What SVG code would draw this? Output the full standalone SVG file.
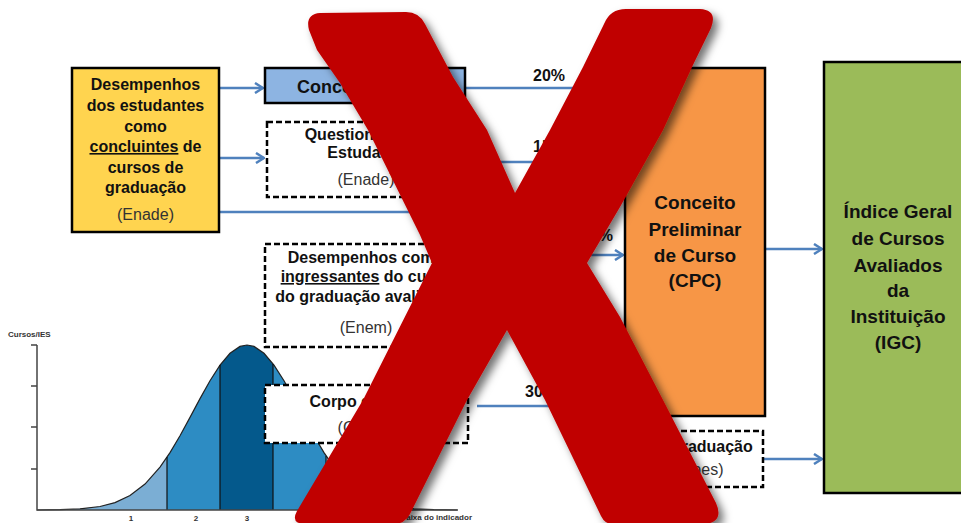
<svg xmlns="http://www.w3.org/2000/svg" width="961" height="523" viewBox="0 0 961 523">
<defs>
<style>
.t{font-family:"Liberation Sans",Arial,sans-serif;font-weight:bold;font-size:16px;fill:#111;text-anchor:middle}
.n{font-weight:normal;fill:#333}
.big{font-size:19px}
.box{stroke:#000;stroke-width:2.5}
.dash{fill:#fff;stroke:#000;stroke-width:2.5;stroke-dasharray:6 3}
.con{stroke:#4F81BD;stroke-width:2.5;fill:none}
.ax{stroke:#444;stroke-width:1.5;fill:none}
.ch{font-family:"Liberation Sans",Arial,sans-serif;font-weight:bold;font-size:8px;fill:#333}
</style>
<marker id="ah" viewBox="0 0 10 12" refX="9" refY="6" markerWidth="10" markerHeight="12" markerUnits="userSpaceOnUse" orient="auto">
<path d="M1,1 L9,6 L1,11" fill="none" stroke="#4F81BD" stroke-width="2.5" stroke-linejoin="miter"/>
</marker>
<clipPath id="bell">
<path d="M37,510 L60,509.7 L80,508.8 L100,506.5 L115,502.6 L130,495.6 L145,484.1 L160,467.1 L170,452.6 L180,435.8 L190,417.4 L200,398.6 L210,380.7 L220,365.1 L230,353.3 L240,346.4 L247,345 L254,346.4 L264,353.3 L274,365.1 L284,380.7 L294,398.6 L304,417.4 L314,435.8 L324,452.6 L334,467.1 L349,484.1 L364,495.6 L379,502.6 L394,506.5 L414,508.8 L434,509.7 L457,510 Z"/>
</clipPath>
<filter id="sh" x="-20%" y="-20%" width="140%" height="140%">
<feDropShadow dx="5" dy="5" stdDeviation="4" flood-color="#000" flood-opacity="0.55"/>
</filter>
</defs>
<rect width="961" height="523" fill="#fff"/>

<g id="chart">
<g clip-path="url(#bell)">
<rect x="37" y="340" width="130" height="172" fill="#7BAED4"/>
<rect x="167" y="340" width="53" height="172" fill="#2D8CC3"/>
<rect x="220" y="340" width="53" height="172" fill="#04598C"/>
<rect x="273" y="340" width="53" height="172" fill="#2D8CC3"/>
<rect x="326" y="340" width="132" height="172" fill="#7BAED4"/>
</g>
<polyline fill="none" stroke="#222" stroke-width="1.2" points="37,510 60,509.7 80,508.8 100,506.5 115,502.6 130,495.6 145,484.1 160,467.1 170,452.6 180,435.8 190,417.4 200,398.6 210,380.7 220,365.1 230,353.3 240,346.4 247,345 254,346.4 264,353.3 274,365.1 284,380.7 294,398.6 304,417.4 314,435.8 324,452.6 334,467.1 349,484.1 364,495.6 379,502.6 394,506.5 414,508.8 434,509.7 457,510"/>
<path d="M167,510V457 M220,510V365 M273,510V364 M326,510V456" stroke="#111" stroke-width="1.2"/>
<path class="ax" d="M37,345V510H458 M31,345H37 M31,386H37 M31,427H37 M31,469H37"/>
<text class="ch" x="8" y="337">Cursos/IES</text>
<text class="ch" x="131" y="521" text-anchor="middle">1</text>
<text class="ch" x="196" y="521" text-anchor="middle">2</text>
<text class="ch" x="247" y="521" text-anchor="middle">3</text>
<text class="ch" x="300" y="521" text-anchor="middle">4</text>
<text class="ch" x="353" y="521" text-anchor="middle">5</text>
<text class="ch" x="472" y="520" text-anchor="end">Faixa do indicador</text>
</g>

<g id="connectors">
<path class="con" d="M219,88H263" marker-end="url(#ah)"/>
<path class="con" d="M219,158H264" stroke-width="3.5" marker-end="url(#ah)"/>
<path class="con" d="M219,212H515V255"/>
<path class="con" d="M465,88H623" marker-end="url(#ah)"/>
<path class="con" d="M465,162H623" marker-end="url(#ah)"/>
<path class="con" d="M468,255H623" marker-end="url(#ah)"/>
<path class="con" d="M477,406H623" marker-end="url(#ah)"/>
<path class="con" d="M765,249H822" marker-end="url(#ah)"/>
<path class="con" d="M763,459H822" marker-end="url(#ah)"/>
<text class="t" x="549" y="81">20%</text>
<text class="t" x="533" y="152" style="text-anchor:start">15%</text>
<text class="t" x="613" y="241" style="text-anchor:end">35%</text>
<text class="t" x="525" y="397" style="text-anchor:start">30%</text>
</g>

<g id="concluintes">
<rect class="box" x="72" y="68" width="147" height="164" fill="#FFD44F"/>
<text class="t" x="145.5" y="90">Desempenhos</text>
<text class="t" x="145.5" y="111">dos estudantes</text>
<text class="t" x="145.5" y="132">como</text>
<text class="t" x="145.5" y="152"><tspan style="text-decoration:underline">concluintes</tspan> de</text>
<text class="t" x="145.5" y="173">cursos de</text>
<text class="t" x="145.5" y="193">graduação</text>
<text class="t n" x="145.5" y="220">(Enade)</text>
</g>

<g id="conceito-enade">
<rect class="box" x="265" y="68" width="200" height="35" fill="#8DB4E2"/>
<text class="t" x="365" y="93" style="font-size:18px">Conceito Enade</text>
</g>

<g id="questionario">
<rect class="dash" x="267" y="122" width="198" height="75"/>
<text class="t" x="366" y="140">Questionário do</text>
<text class="t" x="366" y="158">Estudante</text>
<text class="t n" x="366" y="185">(Enade)</text>
</g>

<g id="ingressantes">
<rect class="dash" x="265" y="244" width="203" height="103"/>
<text class="t" x="366" y="263">Desempenhos como</text>
<text class="t" x="366" y="282"><tspan style="text-decoration:underline">ingressantes</tspan> do curso</text>
<text class="t" x="362" y="302">do graduação avaliado</text>
<text class="t n" x="366" y="333">(Enem)</text>
</g>

<g id="corpo-docente">
<rect class="dash" x="265" y="385" width="203" height="58"/>
<text class="t" x="366" y="407">Corpo docente</text>
<text class="t n" x="366" y="433">(Censo)</text>
</g>

<g id="cpc">
<rect class="box" x="625" y="68" width="140" height="348" fill="#F79646"/>
<text class="t big" x="695" y="209">Conceito</text>
<text class="t big" x="695" y="236">Preliminar</text>
<text class="t big" x="695" y="262">de Curso</text>
<text class="t big" x="695" y="287">(CPC)</text>
</g>

<g id="pos-graduacao">
<rect class="dash" x="627" y="431" width="136" height="56"/>
<text class="t" x="695" y="452">Pós-graduação</text>
<text class="t n" x="695" y="475">(Capes)</text>
</g>

<g id="igc">
<rect class="box" x="824" y="62" width="150" height="431" fill="#9BBB59"/>
<text class="t big" x="898" y="218">Índice Geral</text>
<text class="t big" x="898" y="245">de Cursos</text>
<text class="t big" x="898" y="272">Avaliados</text>
<text class="t big" x="898" y="297">da</text>
<text class="t big" x="898" y="323">Instituição</text>
<text class="t big" x="898" y="349">(IGC)</text>
</g>

<g id="cross" filter="url(#sh)">
<path fill="#C00000" d="M309,30 Q305,14 320,13 L406,12 Q419,12 425,24 L453,77 L487,130 L515,193 L550,130 L583,67 L604,24 Q610,9 626,9 L700,9 Q718,10 711,28 L692,67 L663,130 L620,207 L587,263 L620,317 L663,400 L716,503 Q724,521 706,524 L612,524 Q605,524 601,516 L545,400 L507,330 L467,400 L410,514 Q405,524 393,524 L306,524 Q290,524 297,511 L363,400 L432,263 L420,235 L368,130 L340,83 L317,50 Z"/>
</g>
</svg>
